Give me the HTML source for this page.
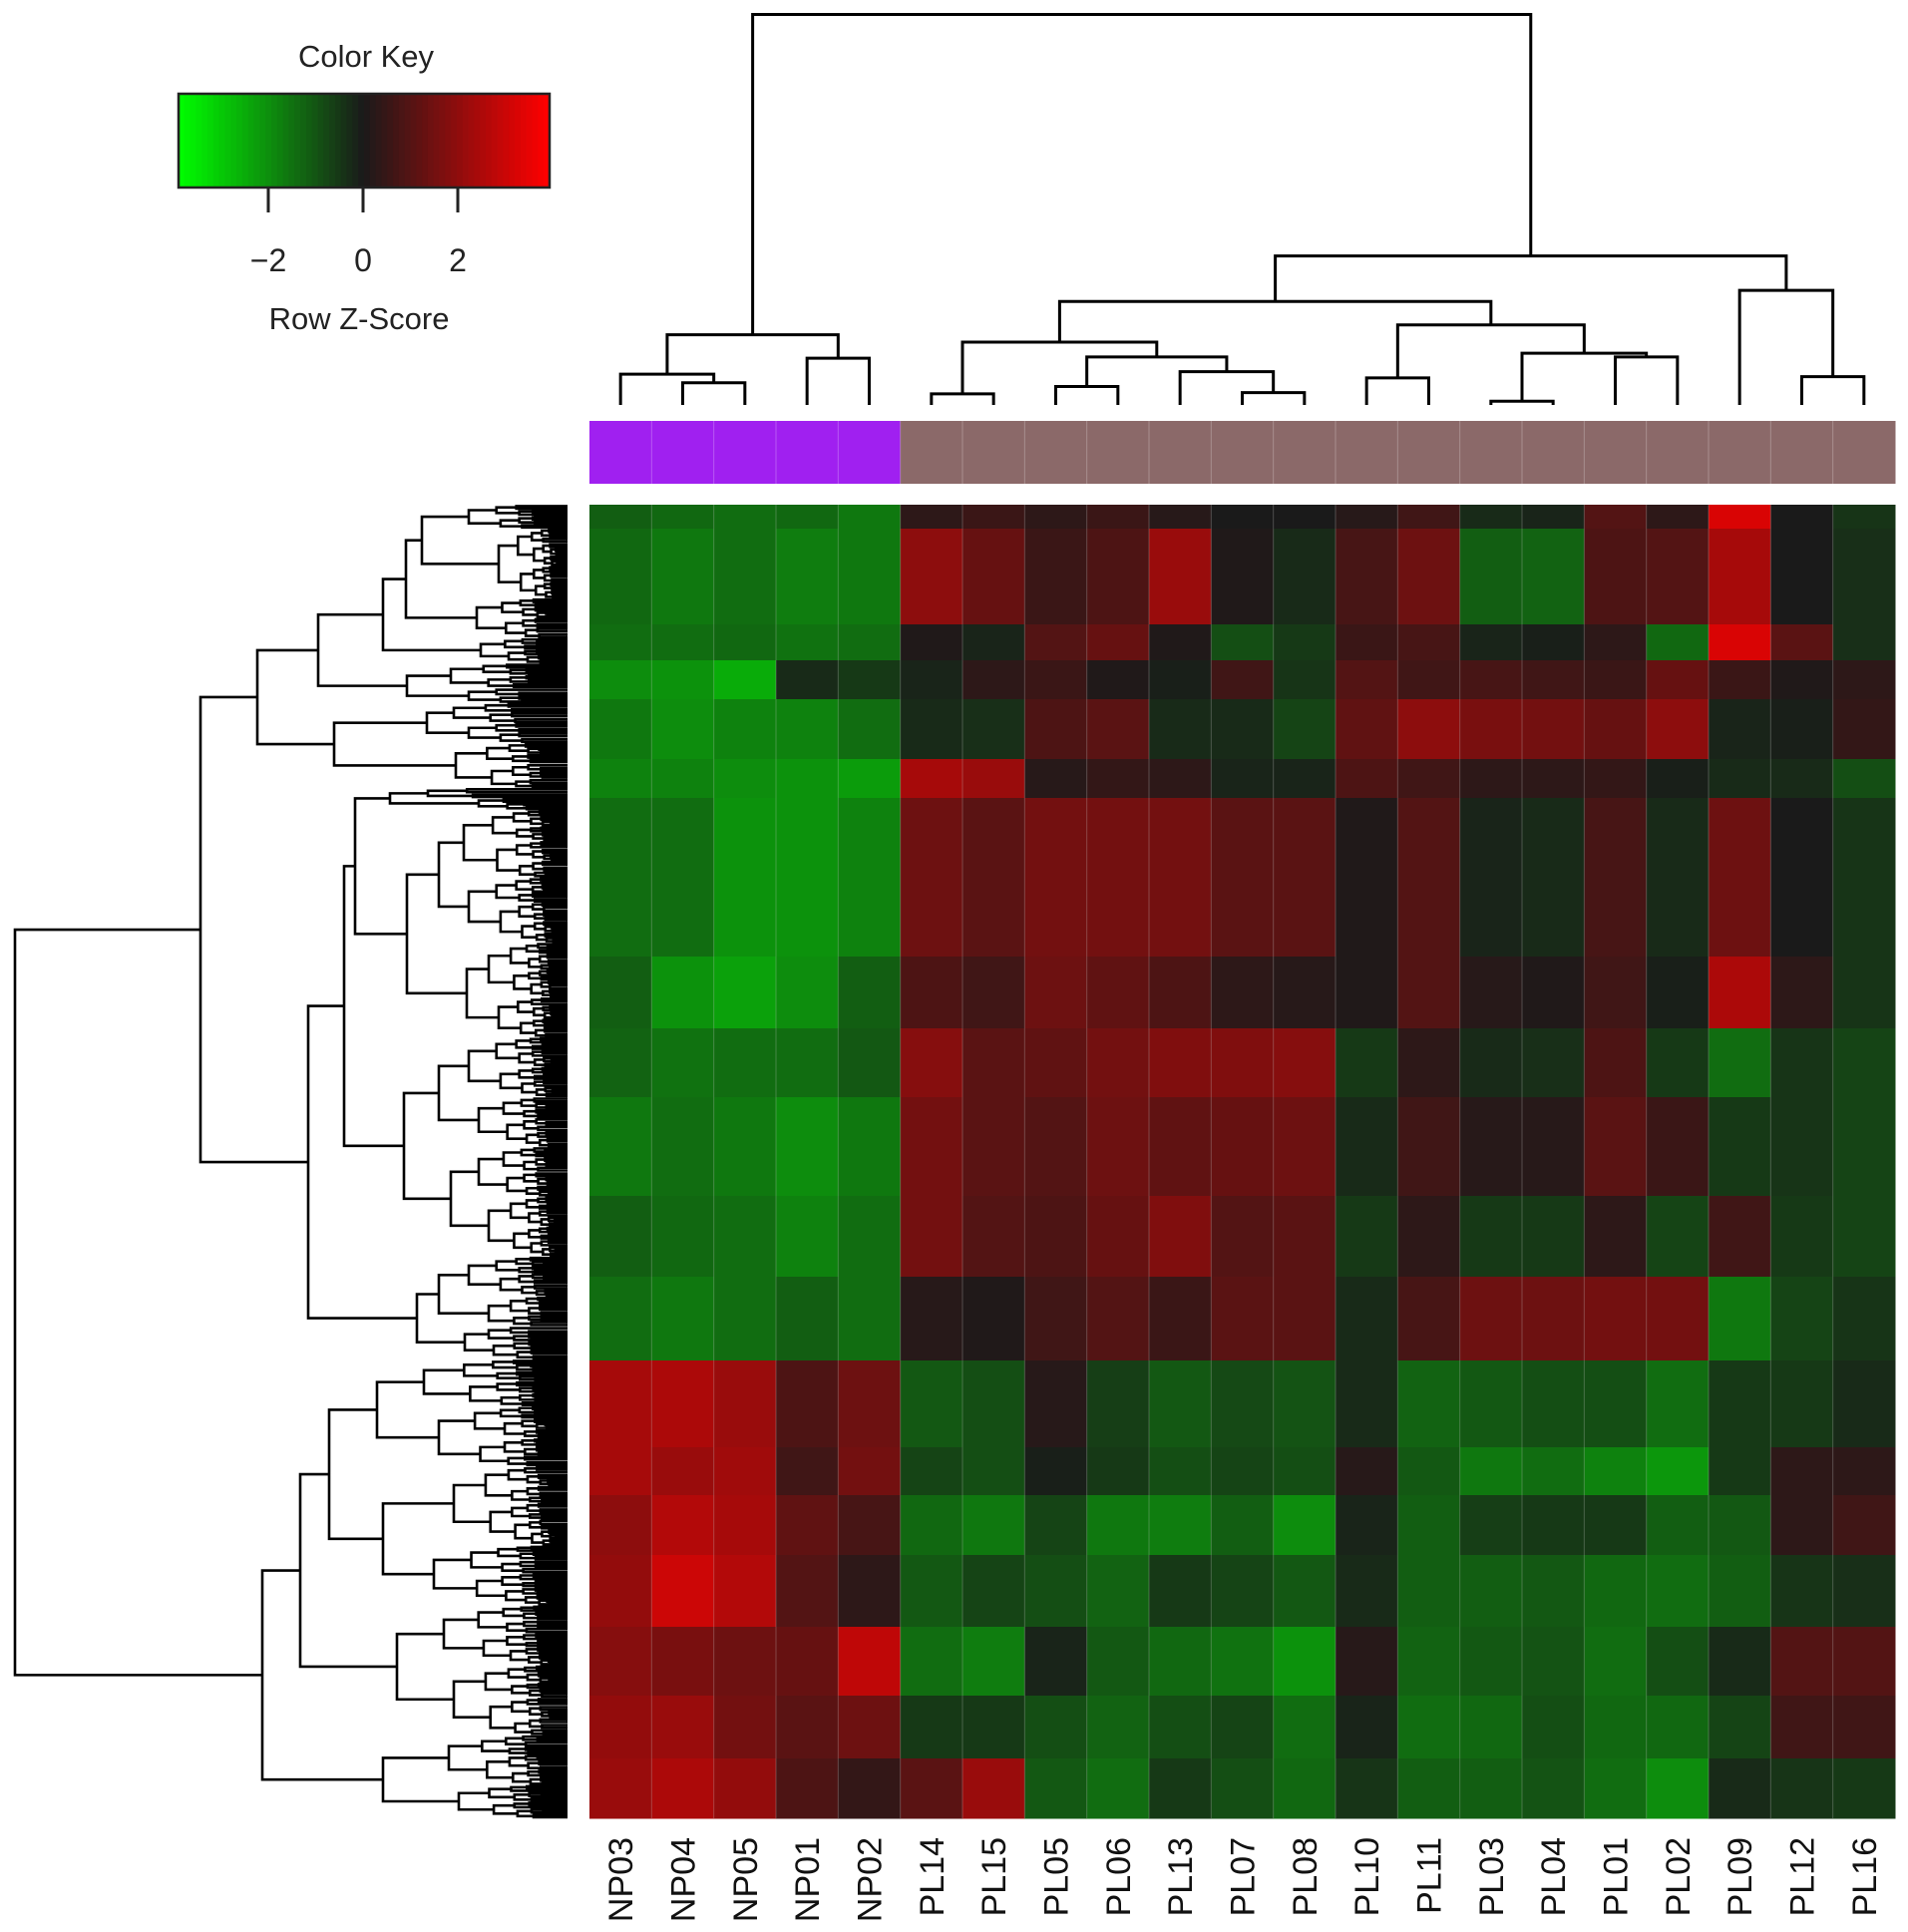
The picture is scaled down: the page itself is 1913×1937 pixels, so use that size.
<!DOCTYPE html>
<html><head><meta charset="utf-8"><style>
html,body{margin:0;padding:0;background:#fff;}
svg{display:block;font-family:"Liberation Sans",sans-serif;}
</style></head><body>
<svg id="chart" width="1913" height="1937" viewBox="0 0 1913 1937" xmlns="http://www.w3.org/2000/svg">
<g id="key"></g>
<g id="coldendro"></g>
<g id="annot"></g>
<g id="heat"></g>
<g id="rowdendro"></g>
<g id="labels"></g>
</svg>
<script>
const samples = ["NP03","NP04","NP05","NP01","NP02","PL14","PL15","PL05","PL06","PL13","PL07","PL08","PL10","PL11","PL03","PL04","PL01","PL02","PL09","PL12","PL16"];
const groups = ["NP","NP","NP","NP","NP","PL","PL","PL","PL","PL","PL","PL","PL","PL","PL","PL","PL","PL","PL","PL","PL"];
const keyTicks = [-2,0,2];
const bandStarts = [0,8,40,52,65,85,98,151,175,198,231,258,286,315,331,351,375,398,419];
const geneCount = 439;
const b0 = [-1.3,-1.5,-1.6,-1.5,-1.8,.3,.5,.3,.5,.2,0,0,.2,.6,-.3,-.2,.9,.3,3,0,-.5];
const b1 = [-1.5,-1.8,-1.6,-1.9,-1.8,1.8,1.2,.5,.8,2,.1,-.3,.7,1.3,-1.3,-1.4,.8,.9,2.2,0,-.4];
const b2 = [-1.6,-1.6,-1.5,-1.7,-1.6,.1,-.2,.9,1.2,.1,-1,-.6,.5,.7,-.2,-.1,.3,-1.5,3,1,-.4];
const b3 = [-2.2,-2.3,-2.8,-.3,-.6,-.2,.3,.5,.1,-.1,.6,-.5,.9,.6,.7,.6,.5,1.2,.5,.1,.3];
const b4 = [-1.8,-2.2,-2,-2,-1.6,-.3,-.4,.8,1,-.3,-.3,-.8,1.1,1.8,1.5,1.4,1.2,1.8,-.2,-.1,.4];
const b5 = [-2,-2,-2.2,-2.3,-2.5,2.2,2,.2,.4,.3,-.2,-.2,.8,.6,.3,.3,.4,-.1,-.3,-.3,-1];
const b6 = [-1.6,-1.6,-2.3,-2.3,-2,1.3,1,1.4,1.4,1.4,1,1,.1,.9,-.2,-.3,.7,-.3,1.3,0,-.5];
const b7 = [-1.3,-2.3,-2.6,-2.2,-1.3,.8,.6,1.3,1.1,.8,.3,.2,.1,.9,.2,.1,.6,-.1,2.3,.3,-.5];
const b8 = [-1.4,-1.7,-1.6,-1.6,-1.2,1.7,1,1.1,1.4,1.6,1.6,1.7,-.6,.3,-.3,-.4,.8,-.6,-1.6,-.5,-.8];
const b9 = [-1.8,-1.6,-1.8,-2.2,-1.8,1.4,1,.9,1.3,1.1,1.2,1.3,-.3,.6,.2,.2,1,.5,-.6,-.5,-.8];
const b10 = [-1.3,-1.5,-1.6,-2,-1.6,1.4,.9,.8,1.2,1.6,.9,1,-.6,.3,-.6,-.6,.3,-.8,.6,-.6,-.8];
const b11 = [-1.6,-1.8,-1.6,-1.3,-1.6,.2,.1,.6,.9,.5,1,1,-.3,.7,1.3,1.3,1.4,1.4,-1.8,-.8,-.5];
const b12 = [2.2,2.3,2,.8,1.3,-1.2,-1,.2,-.7,-1.2,-.9,-1.1,-.3,-1.4,-1.2,-1,-1,-1.6,-.6,-.6,-.3];
const b13 = [2.2,2,2.1,.6,1.4,-.8,-1,-.1,-.6,-1,-.8,-1,.2,-1.2,-1.8,-1.6,-2,-2.4,-.6,.3,.3];
const b14 = [1.8,2.4,2.2,1.1,.7,-1.5,-1.8,-.8,-1.8,-1.9,-1.3,-2.2,-.2,-1.3,-.7,-.6,-.6,-1.3,-1.2,.3,.6];
const b15 = [1.9,2.8,2.4,.9,.3,-1.2,-.8,-1,-1.4,-.6,-.8,-1.2,-.3,-1.3,-1.3,-1.2,-1.5,-1.6,-1.3,-.5,-.4];
const b16 = [1.7,1.5,1.3,1.2,2.6,-1.6,-1.9,-.2,-1.2,-1.5,-1.7,-2.3,.2,-1.4,-1.2,-1.1,-1.6,-1,-.3,.9,.9];
const b17 = [1.9,2,1.4,1,1.3,-.6,-.6,-1,-1.4,-1,-.8,-1.6,-.2,-1.6,-1.5,-1,-1.5,-1.5,-.8,.6,.6];
const b18 = [2,2.3,1.9,.8,.4,1,2,-1.2,-1.6,-.6,-1,-1.5,-.5,-1.3,-1.3,-1.1,-1.6,-2.2,-.3,-.5,-.6];
const bands = [b0,b1,b2,b3,b4,b5,b6,b7,b8,b9,b10,b11,b12,b13,b14,b15,b16,b17,b18];
// column dendrogram merges: [left member, right member, height]
const colMerges = [
 [[1],[2],18],[[0],[1,2],25],[[3],[4],38],[[0,1,2],[3,4],57],
 [[5],[6],9],[[7],[8],15],[[10],[11],10],[[9],[10,11],27],[[7,8],[9,10,11],39],[[5,6],[7,8,9,10,11],51],
 [[12],[13],22],[[14],[15],3],[[16],[17],39],[[14,15],[16,17],42],[[12,13],[14,15,16,17],65],
 [[5,6,7,8,9,10,11],[12,13,14,15,16,17],84],[[19],[20],23],[[18],[19,20],93],
 [[5,6,7,8,9,10,11,12,13,14,15,16,17],[18,19,20],121],[[0,1,2,3,4],[5,6,7,8,9,10,11,12,13,14,15,16,17,18,19,20],317]
];

const NS="http://www.w3.org/2000/svg";
function mk(parent,tag,attrs){const e=document.createElementNS(NS,tag);for(const k in attrs)e.setAttribute(k,attrs[k]);parent.appendChild(e);return e;}
function color(v,sg){const t=Math.min(Math.abs(v)/(v>=0?3.6:(sg||4.4)),1);const hi=Math.round(26+229*t),lo=Math.round(26*(1-t));return v>=0?`rgb(${hi},${lo},${lo})`:`rgb(${lo},${hi},${lo})`;}

const HX0=591,HX1=1900,HY0=506,HY1=1823;
const colW=(HX1-HX0)/samples.length;
const xCol=i=>HX0+colW*(i+0.5);
const yGene=g=>HY0+(HY1-HY0)*g/geneCount;

// heatmap
const heat=document.getElementById('heat');
bands.forEach((vals,bi)=>{
  const g0=bandStarts[bi],g1=bi+1<bandStarts.length?bandStarts[bi+1]:geneCount;
  vals.forEach((v,ci)=>{
    const r=mk(heat,'rect',{x:HX0+colW*ci,y:yGene(g0),width:colW+0.5,height:yGene(g1)-yGene(g0)+0.5,fill:color(v)});
    
    
  });
});
for(let i=1;i<samples.length;i++){mk(heat,'line',{x1:HX0+colW*i,x2:HX0+colW*i,y1:HY0,y2:HY1,stroke:'rgba(200,200,200,0.3)','stroke-width':1});}

// annotation bar
const annot=document.getElementById('annot');
groups.forEach((g,i)=>{
  const r=mk(annot,'rect',{x:HX0+colW*i,y:422,width:colW+0.5,height:63,fill:g==='NP'?'#a020f0':'#8b6969'});
  
  
  if(i>0)mk(annot,'line',{x1:HX0+colW*i,x2:HX0+colW*i,y1:422,y2:485,stroke:'rgba(255,255,255,0.25)','stroke-width':1});
});

// column labels
const labels=document.getElementById('labels');
samples.forEach((s,i)=>{
  const x=xCol(i)+12,y=1842;
  const t=mk(labels,'text',{x:x,y:y,transform:`rotate(-90 ${x} ${y})`,'text-anchor':'end','font-size':34,fill:'#111'});
  t.textContent=s;
  
  
});

// column dendrogram
const cd=document.getElementById('coldendro');
const leafY=406, hScale=1.235;
const yH=h=>leafY-h*hScale;
const nodeInfo={};
samples.forEach((s,i)=>{nodeInfo[String([i])]={x:xCol(i),h:0};});
colMerges.forEach(m=>{
  const a=nodeInfo[String(m[0])],b=nodeInfo[String(m[1])],h=m[2];
  const p=mk(cd,'path',{d:`M${a.x},${yH(a.h)}V${yH(h)}H${b.x}V${yH(b.h)}`,fill:'none',stroke:'#000','stroke-width':3});
  
  
  nodeInfo[String(m[0].concat(m[1]))]={x:(a.x+b.x)/2,h:h};
});

// row dendrogram
const rd=document.getElementById('rowdendro');
const RX=569;
const N=(x,a,b)=>({x,c:[a,b]}), L=(y0,y1,x)=>({y0,y1,x});
const rowTree=N(15,
  N(201,
    N(258,
      N(319, N(384, N(407, N(423,L(506,530,470),L(530,600,500)), L(600,640,478)), L(640,665,482)),
             N(408, L(665,690,452), L(690,705,470))),
      N(335, N(428, L(705,725,455), L(725,745,470)), L(745,790,457))),
    N(309,
      N(345,
        N(356, N(391, L(790,800,429), L(800,812,480)), N(408, N(440, L(812,880,465), L(880,945,470)), N(468, L(945,1000,490), L(1000,1040,500)))),
        N(405, N(440, L(1040,1100,470), L(1100,1150,480)), N(452, L(1150,1200,480), L(1200,1260,490)))),
      N(418, N(440, L(1260,1300,470), L(1300,1330,490)), N(466, L(1330,1345,490), L(1345,1363,495))))),
  N(263,
    N(301,
      N(330, N(378, L(1363,1410,425), L(1410,1470,440)), N(384, L(1470,1550,455), L(1550,1610,435))),
      N(398, L(1610,1670,445), L(1670,1740,455))),
    N(384, L(1740,1790,450), L(1790,1823,460))));
const splits=[0.5,0.42,0.58,0.46,0.54,0.38,0.62];
let sIdx=0;
let rowPath='';
function gen(y0,y1,x){
  if(y1-y0<3.2){return {y:(y0+y1)/2,x:RX};}
  const f=splits[(sIdx++)%splits.length];
  const ym=y0+(y1-y0)*f;
  const step=Math.max(4,(RX-x)*0.28);
  const a=gen(y0,ym,Math.min(RX,x+step)),b=gen(ym,y1,Math.min(RX,x+step*1.15));
  rowPath+=`M${a.x},${a.y}H${x}V${b.y}H${b.x}`;
  return {y:(a.y+b.y)/2,x:x};
}
function walk(n){
  if(n.c===undefined){return gen(n.y0,n.y1,n.x);}
  const a=walk(n.c[0]),b=walk(n.c[1]);
  rowPath+=`M${a.x},${a.y}H${n.x}V${b.y}H${b.x}`;
  return {y:(a.y+b.y)/2,x:n.x};
}
walk(rowTree);
const rp=mk(rd,'path',{d:rowPath,fill:'none',stroke:'#000','stroke-width':2.6});



// color key
const key=document.getElementById('key');
const KX0=179,KX1=551,KY0=94,KY1=188,K0=364,KU=47.5;
const steps=64;
for(let i=0;i<steps;i++){
  const xa=KX0+(KX1-KX0)*i/steps,xb=KX0+(KX1-KX0)*(i+1)/steps;
  const v=((xa+xb)/2-K0)/KU;
  mk(key,'rect',{x:xa,y:KY0,width:xb-xa+0.6,height:KY1-KY0,fill:color(v*0.92,3.6)});
}
const kb=mk(key,'rect',{x:KX0,y:KY0,width:KX1-KX0,height:KY1-KY0,fill:'none',stroke:'#222','stroke-width':2.5});


keyTicks.forEach(t=>{
  const x=K0+t*KU;
  mk(key,'line',{x1:x,x2:x,y1:KY1,y2:213,stroke:'#222','stroke-width':3});
  const tx=mk(key,'text',{x:x,y:272,'text-anchor':'middle','font-size':32,fill:'#222'});
  tx.textContent=t<0?'\u2212'+Math.abs(t):String(t);
  
  
});
const kt=mk(key,'text',{x:367,y:67,'text-anchor':'middle','font-size':31,fill:'#222'});
kt.textContent='Color Key';


const kz=mk(key,'text',{x:360,y:330,'text-anchor':'middle','font-size':31,fill:'#222'});
kz.textContent='Row Z-Score';


</script>
</body></html>
